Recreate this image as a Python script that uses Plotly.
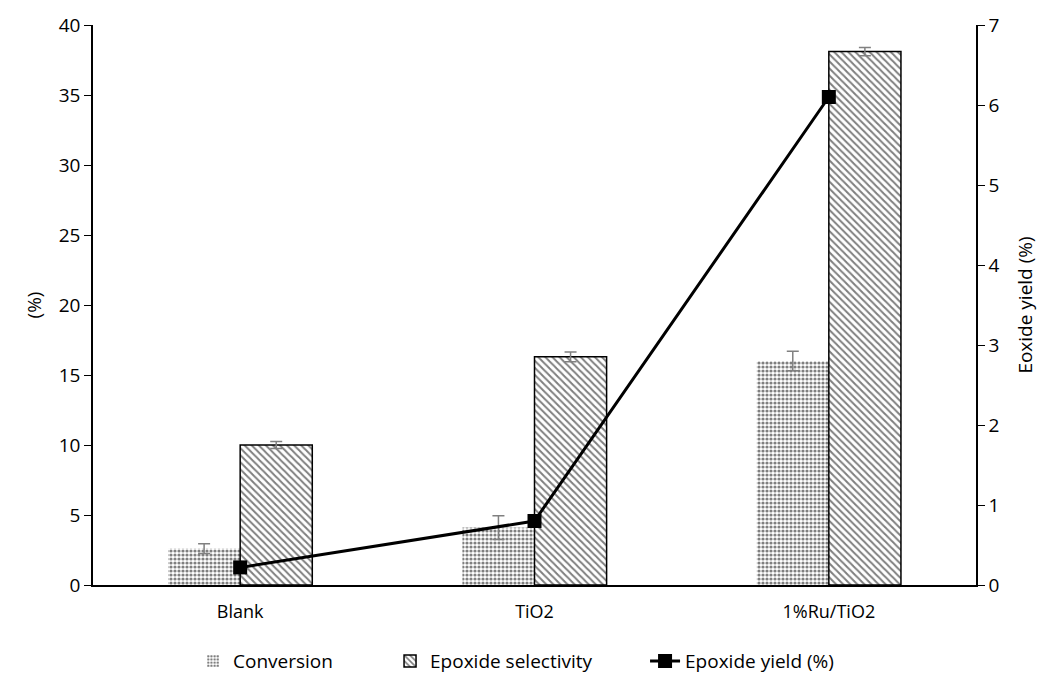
import plotly.graph_objects as go

categories = ["Blank", "TiO2", "1%Ru/TiO2"]
conversion = [2.6, 4.1, 16.0]
conversion_err = [0.35, 0.85, 0.7]
selectivity = [10.0, 16.3, 38.1]
selectivity_err = [0.25, 0.35, 0.3]
yield_pct = [0.22, 0.80, 6.10]

FONT = "Open Sans"

fig = go.Figure()
fig.add_trace(go.Bar(
    x=categories, y=conversion, name="Conversion", legend="legend",
    marker=dict(color="white", line=dict(color="rgba(0,0,0,0)", width=0),
                pattern=dict(shape=".", fgcolor="black", bgcolor="white", size=4, solidity=0.5)),
    error_y=dict(type="data", array=conversion_err, color="#808080", thickness=1.5, width=6),
))
fig.add_trace(go.Bar(
    x=categories, y=selectivity, name="Epoxide selectivity", legend="legend2",
    marker=dict(color="white", line=dict(color="black", width=1.5),
                pattern=dict(shape="\\", fgcolor="black", bgcolor="white", size=5, solidity=0.4)),
    error_y=dict(type="data", array=selectivity_err, color="#808080", thickness=1.5, width=6),
))
fig.add_trace(go.Scatter(
    x=categories, y=yield_pct, name="Epoxide yield (%)", yaxis="y2", legend="legend3",
    mode="lines+markers",
    line=dict(color="black", width=3),
    marker=dict(symbol="square", size=14, color="black"),
))

leg_common = dict(orientation="h", y=-0.136, yanchor="middle", xanchor="left",
                  font=dict(size=19), bgcolor="rgba(0,0,0,0)")

fig.update_layout(
    width=1031, height=665,
    margin=dict(l=85, r=63, t=17, b=88, autoexpand=False),
    paper_bgcolor="white", plot_bgcolor="white",
    font=dict(family=FONT, size=19, color="black"),
    barmode="group", bargap=0.51, bargroupgap=0,
    showlegend=True,
    legend=dict(x=0.1133, **leg_common),
    legend2=dict(x=0.3364, **leg_common),
    legend3=dict(x=0.6252, **leg_common),
    xaxis=dict(showline=True, linecolor="black", linewidth=1.5, ticks="",
               showgrid=False, tickfont=dict(size=18), automargin=False,
               ticklabelstandoff=10),
    yaxis=dict(range=[0, 40], dtick=5, showline=True, linecolor="black", linewidth=1.5,
               ticks="outside", ticklen=7, tickcolor="black", showgrid=False, zeroline=False,
               automargin=False,
               title=dict(text="(%)", font=dict(size=19), standoff=12)),
    yaxis2=dict(range=[0, 7], dtick=1, overlaying="y", side="right", showline=True,
                linecolor="black", linewidth=1.5, ticks="outside", ticklen=7, tickcolor="black",
                showgrid=False, zeroline=False, automargin=False,
                title=dict(text="Eoxide yield (%)", font=dict(size=19), standoff=20)),
)

fig.write_html("out.html")
